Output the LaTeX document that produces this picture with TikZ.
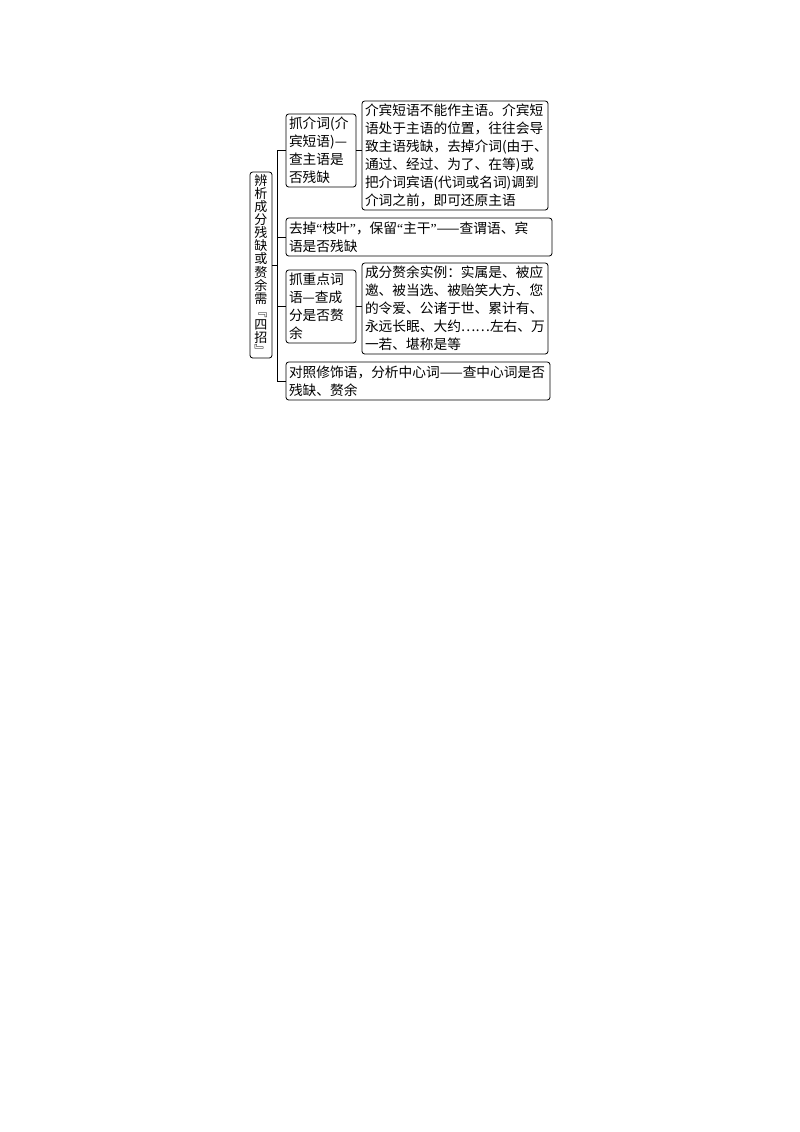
\documentclass[tikz,border=0pt]{standalone}
\usepackage{fontspec}
\setmainfont{Noto Sans CJK SC}
\newfontfamily\qfont{Liberation Serif}
\usetikzlibrary{positioning}

\newcommand\pxu{0.744pt}
\newcommand\qo{{\qfont “}}
\newcommand\qc{{\qfont ”}}
\exhyphenpenalty=10000
\hyphenpenalty=10000
\tikzset{
  tbox/.style={draw, rounded corners=2pt, line width=0.6pt, align=left,
    inner xsep=3*\pxu, inner ysep=0pt, font=\fontsize{10.2}{13.4}\selectfont},
  boxwh/.style 2 args={text width={(#1-6)*\pxu}, minimum height={#2*\pxu}},
  mainbox/.style={draw, rounded corners=2pt, line width=0.6pt, align=center,
    inner sep=0pt, minimum width=22*\pxu, minimum height=186*\pxu,
    font=\fontsize{9.7}{9.7}\selectfont},
}

\begin{document}
\begin{tikzpicture}[x=\pxu, y=-\pxu]
  \useasboundingbox (0,0) rectangle (800,1132);

  \draw (261,265) node[mainbox] (m) {辨\\析\\成\\分\\残\\缺\\或\\赘\\余\\需\\﹃\\四\\招\\﹄};

  \draw (321,150.5) node[tbox, boxwh={70}{73}] (a1) {抓介词(介\\宾短语)—\\查主语是\\否残缺};
  \draw (455,155.5) node[tbox, boxwh={186}{109}] (b1) {介宾短语不能作主语。介宾短\\语处于主语的位置，往往会导\\致主语残缺，去掉介词(由于、\\通过、经过、为了、在等)或\\把介词宾语(代词或名词)调到\\介词之前，即可还原主语};

  \draw (419,237) node[tbox, boxwh={266}{38}] (a2) {去掉\qo 枝叶\qc，保留\qo 主干\qc——查谓语、宾\\语是否残缺};

  \draw (321,306.5) node[tbox, boxwh={70}{73}] (a3) {抓重点词\\语—查成\\分是否赘\\余};
  \draw (455,308.5) node[tbox, boxwh={186}{91}] (b3) {成分赘余实例：实属是、被应\\邀、被当选、被贻笑大方、您\\的令爱、公诸于世、累计有、\\永远长眠、大约……左右、万\\一若、堪称是等};

  \draw (418,381) node[tbox, boxwh={264}{38}] (a4) {对照修饰语，分析中心词——查中心词是否\\残缺、赘余};

  % trunk
  \coordinate (tr) at (277,265);
  \draw (m.east) -- (tr);
  \draw (a1.west) -- (a1.west -| tr) -- (a4.west -| tr) -- (a4.west);
  \draw (a2.west) -- (a2.west -| tr);
  \draw (a3.west) -- (a3.west -| tr);

  \draw (a1.east) -- (a1.east -| b1.west);
  \draw (a3.east) -- (a3.east -| b3.west);
\end{tikzpicture}
\end{document}
